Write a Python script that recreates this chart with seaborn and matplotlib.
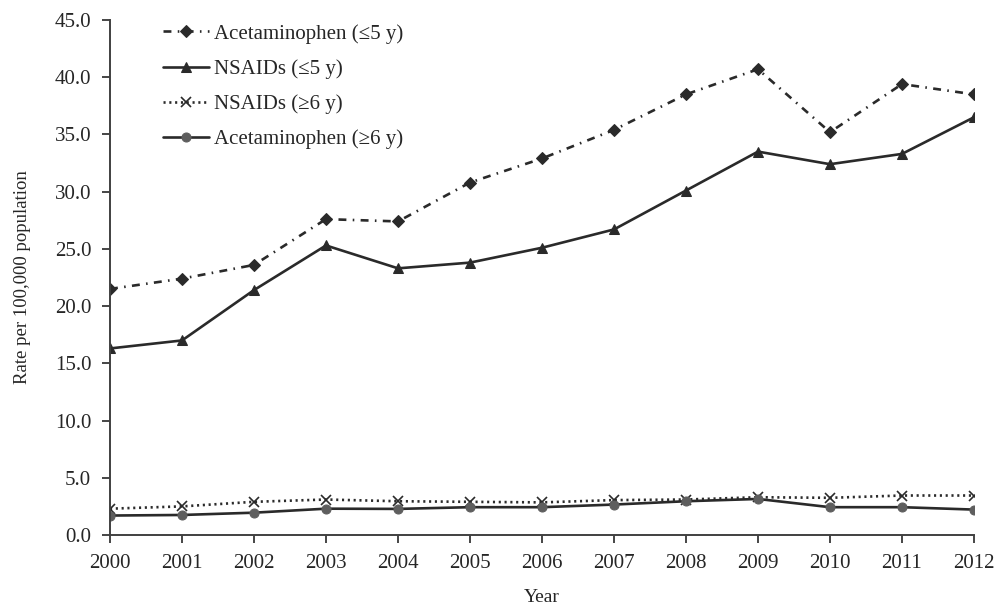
import matplotlib
matplotlib.use("Agg")
import matplotlib.pyplot as plt
import seaborn as sns
import pandas as pd

years = [2000, 2001, 2002, 2003, 2004, 2005, 2006, 2007, 2008, 2009, 2010, 2011, 2012]
acet_le5 = [21.5, 22.4, 23.6, 27.6, 27.4, 30.8, 32.9, 35.4, 38.5, 40.7, 35.2, 39.4, 38.5]
nsaid_le5 = [16.3, 17.0, 21.4, 25.3, 23.3, 23.8, 25.1, 26.7, 30.1, 33.5, 32.4, 33.3, 36.5]
nsaid_ge6 = [2.3, 2.5, 2.9, 3.1, 2.95, 2.9, 2.85, 3.05, 3.1, 3.3, 3.25, 3.45, 3.45]
acet_ge6 = [1.7, 1.75, 1.95, 2.3, 2.28, 2.43, 2.43, 2.66, 2.95, 3.15, 2.43, 2.43, 2.22]
labels = ["Acetaminophen (\u22645 y)", "NSAIDs (\u22645 y)", "NSAIDs (\u22656 y)", "Acetaminophen (\u22656 y)"]
yticks = [0, 5, 10, 15, 20, 25, 30, 35, 40, 45]

sns.set_theme(style="ticks")
plt.rcParams["font.family"] = ["Liberation Serif", "DejaVu Serif"]

W, H = 996, 605
fig = plt.figure(figsize=(W / 100, H / 100), dpi=100)
ax = fig.add_axes([110 / W, 1 - 535 / H, (974 - 110) / W, (535 - 20) / H])

dark = "#2a2a2a"
gray = "#5e5e5e"
styles = [
    dict(marker="D", markersize=6, linestyle=(0, (3.0, 2.4, 0.6, 2.4)), color=dark,
         markerfacecolor=dark, markeredgecolor=dark),
    dict(marker="^", markersize=7.5, linestyle="-", color=dark,
         markerfacecolor=dark, markeredgecolor=dark),
    dict(marker="x", markersize=7, linestyle=(0, (0.8, 1.4)), color=dark,
         markeredgecolor=dark, markeredgewidth=1.2),
    dict(marker="o", markersize=6.5, linestyle="-", color=dark,
         markerfacecolor=gray, markeredgecolor=gray),
]
series = [acet_le5, nsaid_le5, nsaid_ge6, acet_ge6]
for vals, lab, st in zip(series, labels, styles):
    df = pd.DataFrame({"Year": years, "Rate": vals})
    sns.lineplot(data=df, x="Year", y="Rate", ax=ax, label=lab, linewidth=1.9, **st)

ax.set_xlim(2000, 2012)
ax.set_ylim(0, 45)
ax.set_xticks(years)
ax.set_xticklabels([str(y) for y in years])
ax.set_yticks(yticks)
ax.set_yticklabels([f"{v:.1f}" for v in yticks])
ax.tick_params(axis="both", labelsize=15, colors="#262626", length=5.5, width=1.2, direction="out")
ax.tick_params(axis="x", pad=8.5)
ax.tick_params(axis="y", pad=8)
for s in ["left", "bottom"]:
    ax.spines[s].set_color("#404040")
    ax.spines[s].set_linewidth(1.4)
sns.despine(ax=ax)
ax.set_xlabel("Year", fontsize=14, color="#262626")
ax.set_ylabel("Rate per 100,000 population", fontsize=13.5, color="#262626")
ax.xaxis.label.set_va("center")
ax.yaxis.label.set_va("center")
ax.xaxis.set_label_coords(0.5, (535 - 597) / 515)
ax.yaxis.set_label_coords((22 - 110) / 864, 0.5)
ax.grid(False)

leg = ax.legend(loc="upper left", bbox_to_anchor=(163 / W, 1 - 24 / H), bbox_transform=fig.transFigure,
                frameon=False, fontsize=15, borderpad=0, borderaxespad=0,
                handlelength=2.2, handletextpad=0.25, labelspacing=0.74)
for t in leg.get_texts():
    t.set_color("#262626")

fig.savefig("out.png", dpi=100)
